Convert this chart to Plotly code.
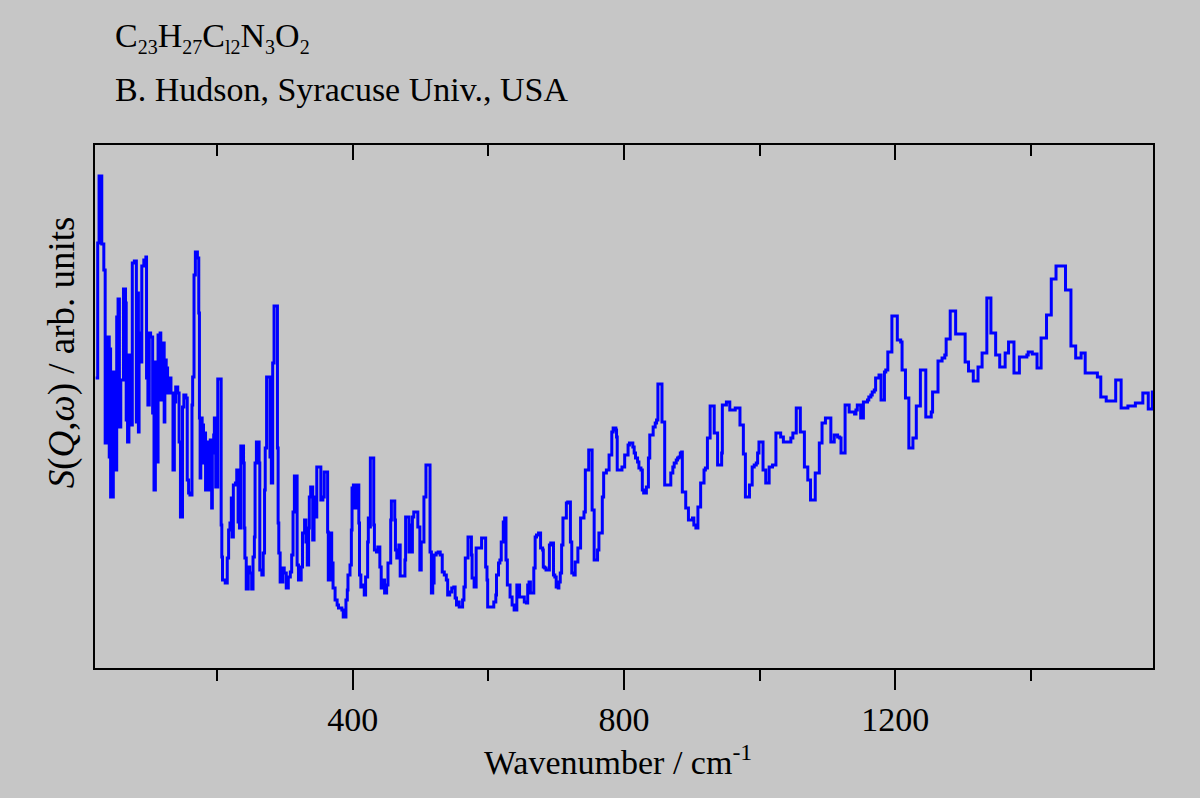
"""
Spectre INS : C23H27Cl2N3O2 (B. Hudson, Syracuse Univ.)
"""
import plotly.graph_objects as go

#########################################
################ DONNEES ################
#########################################

# nombre d'onde (cm-1), début de chaque marche
wavenumber = [
    21, 24, 26, 30, 33, 35, 38, 41, 42, 43, 47, 50, 52, 54, 56, 58, 62, 65, 66, 68,
    70, 73, 75, 78, 81, 82, 84, 85, 87, 89, 92, 95, 96, 98, 100, 102, 105, 107, 109, 112,
    113, 116, 117, 120, 122, 123, 125, 127, 130, 132, 135, 137, 139, 142, 144, 146, 149, 151, 154, 156,
    158, 160, 163, 164, 166, 168, 171, 173, 174, 175, 176, 178, 180, 181, 183, 185, 187, 190, 192, 193,
    195, 196, 198, 201, 206, 207, 208, 212, 215, 217, 219, 221, 222, 224, 227, 229, 231, 233, 235, 239,
    240, 241, 243, 246, 248, 251, 253, 255, 256, 258, 262, 263, 266, 268, 270, 271, 273, 278, 280, 282,
    284, 289, 290, 291, 293, 297, 299, 302, 305, 308, 310, 312, 314, 318, 320, 324, 326, 329, 331, 333,
    335, 336, 338, 341, 343, 346, 347, 353, 356, 358, 363, 364, 367, 369, 371, 374, 377, 379, 384, 386,
    390, 392, 393, 396, 398, 399, 401, 403, 405, 409, 410, 412, 414, 417, 419, 422, 423, 425, 426, 431,
    432, 435, 437, 440, 442, 445, 447, 450, 452, 456, 457, 462, 463, 465, 468, 470, 477, 478, 483, 485,
    487, 488, 490, 496, 499, 501, 505, 508, 514, 516, 518, 520, 523, 526, 529, 532, 535, 538, 540, 543,
    546, 549, 551, 553, 555, 557, 562, 564, 566, 570, 575, 576, 579, 582, 590, 596, 598, 599, 608, 611,
    612, 615, 617, 619, 622, 624, 626, 628, 632, 635, 638, 642, 646, 653, 656, 658, 660, 662, 667, 669,
    671, 674, 677, 680, 681, 683, 685, 690, 692, 696, 698, 700, 703, 704, 706, 708, 710, 715, 717, 721,
    723, 726, 728, 732, 736, 741, 743, 748, 753, 756, 761, 763, 768, 770, 774, 778, 782, 784, 788, 789,
    790, 797, 801, 806, 808, 813, 815, 817, 820, 822, 825, 827, 829, 833, 836, 838, 843, 846, 848, 850,
    856, 860, 869, 872, 874, 877, 879, 881, 883, 885, 886, 891, 895, 901, 903, 906, 909, 913, 918, 920,
    923, 927, 933, 938, 944, 945, 951, 956, 964, 971, 976, 979, 985, 989, 992, 995, 997, 999, 1005, 1009,
    1014, 1019, 1024, 1031, 1035, 1046, 1049, 1054, 1060, 1066, 1071, 1075, 1082, 1088, 1092, 1097, 1105, 1110, 1115, 1118,
    1120, 1126, 1132, 1140, 1142, 1144, 1149, 1153, 1159, 1161, 1164, 1166, 1169, 1171, 1176, 1179, 1184, 1186, 1189, 1195,
    1203, 1208, 1210, 1215, 1220, 1226, 1231, 1237, 1245, 1253, 1255, 1263, 1269, 1273, 1275, 1281, 1289, 1303, 1308, 1315,
    1322, 1328, 1335, 1341, 1348, 1354, 1362, 1367, 1375, 1383, 1394, 1396, 1402, 1409, 1415, 1423, 1430, 1437, 1451, 1459,
    1466, 1474, 1480, 1498, 1503, 1511, 1525, 1533, 1543, 1554, 1565, 1573, 1579, 1580,
]

# S(Q,w) en unités arbitraires
intensity = [
    290, 425, 492, 424, 398, 225, 331, 211, 319, 171, 296, 198, 351, 369, 241, 288, 379, 365, 248, 226,
    313, 243, 405, 407, 246, 375, 236, 335, 306, 402, 408, 411, 290, 263, 335, 331, 255, 178, 306, 206,
    333, 335, 268, 325, 246, 308, 300, 275, 290, 275, 198, 266, 281, 275, 226, 151, 261, 273, 270, 188,
    175, 173, 263, 291, 393, 416, 410, 355, 250, 190, 250, 243, 205, 235, 178, 226, 178, 228, 160, 215,
    233, 250, 181, 289, 143, 111, 88, 85, 110, 138, 145, 170, 131, 183, 185, 198, 146, 140, 222, 205,
    140, 110, 79, 101, 95, 79, 111, 131, 205, 226, 205, 98, 93, 115, 178, 220, 291, 211, 185, 305,
    362, 220, 145, 115, 86, 100, 95, 80, 91, 96, 113, 156, 192, 103, 88, 101, 135, 148, 126, 103,
    140, 171, 181, 128, 171, 151, 201, 168, 171, 196, 136, 88, 135, 105, 80, 68, 63, 60, 58, 51,
    68, 78, 93, 103, 138, 180, 183, 160, 183, 145, 93, 81, 83, 73, 91, 126, 150, 141, 210, 143,
    118, 116, 121, 101, 80, 88, 75, 83, 105, 148, 167, 148, 118, 110, 123, 92, 108, 151, 116, 143,
    116, 151, 156, 141, 98, 126, 171, 203, 116, 75, 85, 113, 115, 116, 113, 96, 93, 88, 73, 76,
    80, 81, 70, 63, 66, 61, 68, 81, 110, 131, 113, 90, 81, 120, 130, 101, 88, 61, 66, 73,
    93, 105, 108, 126, 146, 150, 108, 83, 71, 63, 58, 83, 71, 66, 65, 83, 86, 75, 100, 131,
    133, 135, 120, 118, 101, 100, 98, 123, 125, 93, 91, 81, 80, 86, 95, 123, 150, 165, 166, 126,
    95, 93, 106, 120, 150, 156, 198, 218, 158, 108, 118, 135, 171, 195, 198, 213, 236, 240, 238, 231,
    198, 201, 213, 223, 225, 221, 215, 210, 206, 200, 198, 178, 175, 181, 210, 233, 241, 245, 248, 284,
    246, 183, 195, 201, 205, 208, 210, 211, 215, 216, 176, 160, 148, 150, 143, 140, 161, 185, 198, 200,
    230, 262, 235, 203, 215, 263, 266, 258, 260, 243, 214, 171, 183, 201, 203, 205, 215, 226, 198, 185,
    201, 203, 235, 231, 226, 230, 235, 260, 236, 201, 188, 168, 195, 225, 245, 250, 226, 233, 231, 230,
    215, 263, 256, 254, 258, 263, 250, 266, 268, 271, 273, 276, 278, 290, 293, 268, 296, 298, 316, 352,
    328, 326, 298, 270, 220, 230, 262, 298, 251, 256, 276, 307, 310, 313, 329, 357, 334, 306, 297, 287,
    301, 315, 370, 335, 313, 301, 315, 326, 295, 311, 313, 316, 314, 300, 330, 353, 389, 402, 378, 322,
    310, 315, 295, 291, 271, 267, 288, 260, 262, 265, 275, 259, 276, 276,
]

# graduations de l'axe des abscisses
tick_major = [400, 800, 1200]
tick_minor = [200, 600, 1000, 1400]

# formule : indices plus petits que le <sub> par défaut
ELEMENTS = ["C", "H", "C", "N", "O"]
INDICES = ["23", "27", "l2", "3", "2"]
FORMULE = "".join(el + "<sub><span style='font-size:20px'>" + ind + "</span></sub>"
                  for el, ind in zip(ELEMENTS, INDICES))
AUTEUR = "B. Hudson, Syracuse Univ., USA"
FOND = "#C6C6C6"
POLICE = "Liberation Serif, Times New Roman, serif"

#########################################
################ FIGURE #################
#########################################

fig = go.Figure()
fig.add_trace(go.Scatter(x=wavenumber, y=intensity, mode="lines",
                         line=dict(color="#0000FF", width=3, shape="hv"),
                         hoverinfo="skip", showlegend=False))
# trace invisible pour faire apparaître l'axe du haut
fig.add_trace(go.Scatter(x=wavenumber, y=intensity, mode="lines", xaxis="x2",
                         line=dict(color="rgba(0,0,0,0)", width=0),
                         hoverinfo="skip", showlegend=False))

fig.update_layout(
    width=1200, height=798,
    paper_bgcolor=FOND, plot_bgcolor=FOND,
    margin=dict(l=95, r=47, t=145, b=130),
    font=dict(family=POLICE, size=33, color="black"),
    xaxis=dict(range=[20, 1580], tickvals=tick_major, ticks="outside",
               ticklen=20, tickwidth=2, tickcolor="black",
               minor=dict(tickvals=tick_minor, ticks="outside", ticklen=11,
                          tickwidth=2, tickcolor="black"),
               showline=True, linewidth=2, linecolor="black", mirror=True,
               showgrid=False, zeroline=False,
               tickfont=dict(family=POLICE, size=34)),
    xaxis2=dict(range=[20, 1580], overlaying="x", side="top", anchor="y",
                tickvals=tick_major, ticks="inside", ticklen=15, tickwidth=2,
                tickcolor="black",
                minor=dict(tickvals=tick_minor, ticks="inside", ticklen=11,
                           tickwidth=2, tickcolor="black"),
                showticklabels=False, showline=False, showgrid=False,
                zeroline=False),
    yaxis=dict(range=[0, 523], showticklabels=False, ticks="",
               showline=True, linewidth=2, linecolor="black", mirror=True,
               showgrid=False, zeroline=False),
)

fig.add_annotation(text=FORMULE, xref="paper", yref="paper", x=0.017, y=1.205,
                   xanchor="left", yanchor="middle", showarrow=False,
                   font=dict(family=POLICE, size=34))
fig.add_annotation(text=AUTEUR, xref="paper", yref="paper", x=0.017, y=1.107,
                   xanchor="left", yanchor="middle", showarrow=False,
                   font=dict(family=POLICE, size=34))
fig.add_annotation(text="Wavenumber / cm<sup>-1</sup>", xref="paper", yref="paper",
                   x=0.494, y=-0.176, xanchor="center", yanchor="middle",
                   showarrow=False, font=dict(family=POLICE, size=34))
fig.add_annotation(text="<i>S</i>(<i>Q</i>,<i>ω</i>) / arb. units", xref="paper",
                   yref="paper", x=-0.031, y=0.604, textangle=-90,
                   xanchor="center", yanchor="middle", showarrow=False,
                   font=dict(family=POLICE, size=37))

# pas de marge autour de la page, pas de barre d'outils
fig.write_html("out.html", config={"displayModeBar": False},
               post_script="document.body.style.margin='0';")
